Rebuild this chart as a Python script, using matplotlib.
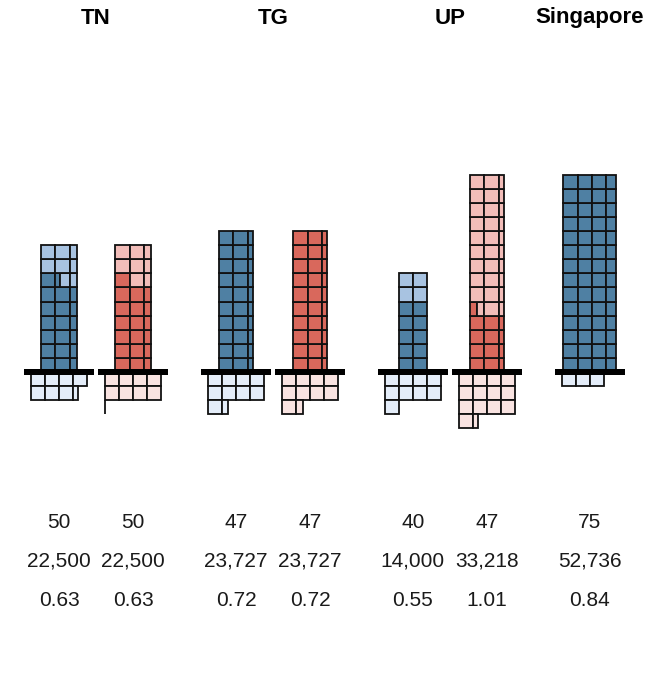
import matplotlib
matplotlib.use('Agg')
import matplotlib.pyplot as plt
from matplotlib.patches import Rectangle

# groups and their columns (blue = first, red = second)
groups = ['TN', 'TG', 'UP', 'Singapore']
col_group = [0, 0, 1, 1, 2, 2, 3]
col_member = [0, 1, 0, 1, 0, 1, 0]
col_kind = ['blue', 'red', 'blue', 'red', 'blue', 'red', 'blue']

# cell counts
widths = [2.5, 2.5, 2.35, 2.35, 2.0, 2.35, 3.75]
dark_cells = [16.3, 16.0, 23.5, 23.5, 10.0, 9.85, 52.5]
light_cells = [6.2, 6.5, 0.0, 0.0, 4.0, 23.05, 0.0]
below_cells = [7.35, 8.02, 9.47, 9.47, 9.0, 13.35, 3.0]

# labels under each column
row1 = ['50', '50', '47', '47', '40', '47', '75']
row2 = ['22,500', '22,500', '23,727', '23,727', '14,000', '33,218', '52,736']
row3 = ['0.63', '0.63', '0.72', '0.72', '0.55', '1.01', '0.84']

colors = {
    'blue': ('#4f80a3', '#a8c3e1', '#e4edf9'),
    'red': ('#d9685c', '#f2bdb9', '#f9e3e1'),
}

CELL = 14.1  # px per cell
W, H = 656, 680
BASE = 372   # baseline, px from top
X0 = 59 / CELL
GROUP_STEP = 12.55
PAIR_STEP = 5.25
BELOW_W = 4
BAR_W = 5.0
LW = 1.3

fig = plt.figure(figsize=(W / 100, H / 100), dpi=100)
ax = fig.add_axes([0, 0, 1, 1])
ax.set_xlim(0, W / CELL)
ax.set_ylim(-(H - BASE) / CELL, BASE / CELL)
ax.axis('off')


def grid_cells(row_width, total, downward=False):
    # walk cells row by row, left to right; yield (x, y, w, start, end)
    full = int(row_width)
    part = row_width - full
    row_ws = [1.0] * full + ([part] if part > 1e-6 else [])
    s = 0.0
    r = 0
    while s < total - 1e-9:
        x = -row_width / 2
        for cw in row_ws:
            if s >= total - 1e-9:
                break
            y = -(r + 1) if downward else r
            yield x, y, cw, s, s + cw
            s += cw
            x += cw
        r += 1


def draw_segments(cx, row_width, segs, downward=False):
    total = sum(a for a, _ in segs)
    bounds = []
    acc = 0.0
    for amount, col in segs:
        bounds.append((acc, acc + amount, col))
        acc += amount
    for x, y, cw, s, e in grid_cells(row_width, total, downward):
        for a, b, col in bounds:
            lo, hi = max(s, a), min(e, b)
            if hi - lo > 1e-9:
                ax.add_patch(Rectangle((cx + x + (lo - s), y), hi - lo, 1,
                                       facecolor=col, edgecolor='#111111',
                                       linewidth=LW, zorder=2))


centers = []
for i in range(len(widths)):
    cx = X0 + col_group[i] * GROUP_STEP + col_member[i] * PAIR_STEP
    centers.append(cx)
    dark, light, pale = colors[col_kind[i]]
    draw_segments(cx, widths[i], [(dark_cells[i], dark), (light_cells[i], light)])
    draw_segments(cx, BELOW_W, [(below_cells[i], pale)], downward=True)
    ax.add_patch(Rectangle((cx - BAR_W / 2, -0.21), BAR_W, 0.42,
                           facecolor='black', edgecolor='none', zorder=3))

    for txt, ypx in zip([row1[i], row2[i], row3[i]], [522, 561, 600]):
        ax.text(cx, (BASE - ypx) / CELL, txt, ha='center', va='center',
                fontsize=15, family='Liberation Sans', color='#1a1a1a')

for g, name in enumerate(groups):
    xs = [centers[i] for i in range(len(widths)) if col_group[i] == g]
    ax.text(sum(xs) / len(xs), (BASE - 18) / CELL, name, ha='center',
            va='center', fontsize=16, fontweight='bold',
            family='Liberation Sans', color='black')

fig.savefig('out.png', dpi=100)
